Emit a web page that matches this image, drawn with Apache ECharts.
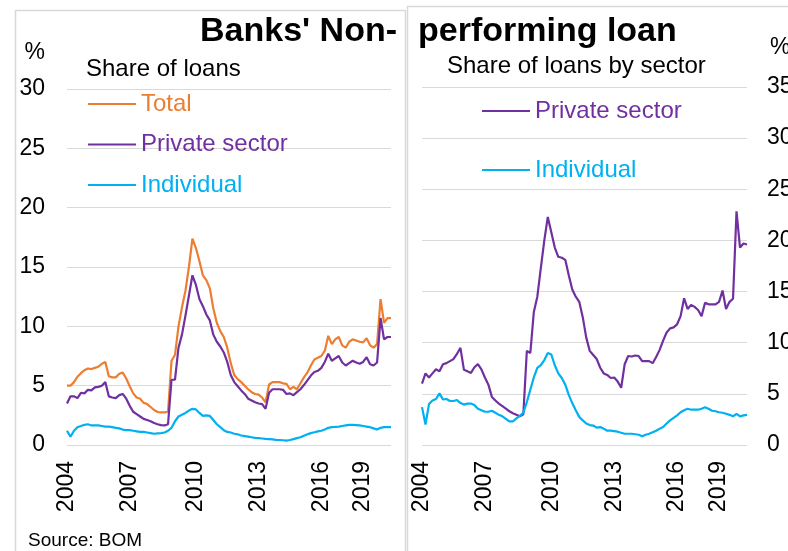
<!DOCTYPE html>
<html>
<head>
<meta charset="utf-8">
<script src="https://cdn.jsdelivr.net/npm/echarts@6/dist/echarts.min.js"></script>
<style>
html,body{margin:0;padding:0;background:#fff;}
#c{width:788px;height:551px;}
</style>
</head>
<body>
<div id="c"></div>
<script>
// Periods (roughly bi-monthly observations, 2004 - mid 2020)
const categories = Array.from({length: 94}, (_, i) => String(i));
const tickLabels = ['2004', '2007', '2010', '2013', '2016', '2019'];
const tickIndex = [0, 18, 37, 55, 73, 85];

// Left panel: share of loans (%)
const totalNPL = [5.0,5.0,5.3,5.75,6.05,6.3,6.45,6.4,6.5,6.6,6.85,7.0,5.8,5.7,5.7,6.0,6.1,5.6,4.95,4.35,
  4.0,3.9,3.55,3.45,3.2,2.95,2.78,2.75,2.75,2.8,7.1,7.6,10.0,11.6,13.0,15.0,17.4,16.6,15.5,14.3,
  13.9,13.2,11.5,10.3,9.6,9.1,8.2,6.9,5.9,5.55,5.3,5.0,4.7,4.45,4.3,4.25,4.0,3.6,5.1,5.3,
  5.3,5.3,5.2,5.15,4.7,4.9,4.7,5.2,5.7,6.1,6.7,7.2,7.35,7.5,7.95,9.2,8.5,8.9,9.1,8.4,
  8.2,8.7,8.9,8.8,8.7,8.65,9.0,8.4,8.2,8.5,12.3,10.3,10.7,10.7];
const privateNPL = [3.5,4.1,4.1,3.95,4.4,4.35,4.65,4.6,4.85,4.9,5.0,5.3,4.1,4.0,3.95,4.2,4.3,3.9,3.3,2.8,
  2.6,2.4,2.2,2.1,2.0,1.85,1.75,1.68,1.65,1.75,5.5,5.5,8.2,9.3,10.9,12.6,14.3,13.5,12.3,11.7,
  11.0,10.5,9.3,8.7,8.3,7.8,7.0,5.9,5.3,4.95,4.6,4.3,3.9,3.75,3.6,3.5,3.45,3.05,4.4,4.7,
  4.7,4.7,4.65,4.3,4.35,4.2,4.45,4.7,5.05,5.45,5.85,6.15,6.25,6.5,7.0,7.7,7.1,7.3,7.5,6.95,
  6.7,6.9,7.1,6.95,6.85,7.0,7.4,6.8,6.7,6.95,10.7,8.9,9.1,9.1];
const individualNPL = [1.2,0.7,1.2,1.5,1.6,1.7,1.75,1.65,1.65,1.65,1.6,1.55,1.55,1.5,1.45,1.4,1.3,1.25,1.25,1.2,
  1.15,1.1,1.1,1.05,1.0,0.95,0.98,1.0,1.05,1.2,1.45,2.0,2.4,2.55,2.7,2.9,3.05,3.0,2.7,2.45,
  2.5,2.45,2.1,1.75,1.5,1.25,1.1,1.05,0.95,0.9,0.8,0.75,0.7,0.65,0.6,0.58,0.55,0.52,0.5,0.47,
  0.43,0.42,0.4,0.37,0.42,0.5,0.58,0.65,0.78,0.9,1.0,1.07,1.15,1.2,1.3,1.45,1.5,1.52,1.55,1.6,
  1.65,1.7,1.7,1.68,1.65,1.6,1.55,1.5,1.4,1.3,1.45,1.5,1.5,1.5];

// Right panel: share of loans by sector (%)
const privateSector = [6.0,7.0,6.6,7.0,7.4,7.2,7.9,8.0,8.2,8.4,8.9,9.5,7.35,7.2,7.05,7.6,7.9,7.4,6.6,5.9,
  4.7,4.35,4.05,3.8,3.55,3.3,3.1,2.95,2.8,3.0,9.2,9.0,13.0,14.5,17.3,20.0,22.3,20.8,19.3,18.4,
  18.3,18.1,16.6,15.2,14.5,14.0,12.5,10.5,9.2,8.8,8.4,7.55,7.0,6.85,6.55,6.6,6.2,5.6,7.9,8.7,
  8.65,8.75,8.7,8.2,8.2,8.2,8.0,8.6,9.3,10.2,11.0,11.4,11.5,11.8,12.6,14.35,13.3,13.7,13.5,13.2,
  12.6,13.9,13.75,13.75,13.75,14.0,15.1,13.3,14.0,14.3,22.85,19.3,19.7,19.6];
const individualSector = [3.7,2.0,4.0,4.35,4.5,5.05,4.45,4.5,4.3,4.3,4.4,4.1,3.95,4.05,4.05,3.9,3.55,3.4,3.25,3.25,
  3.35,3.15,2.95,2.8,2.55,2.3,2.3,2.6,2.85,3.15,4.2,5.4,6.6,7.55,7.8,8.3,9.0,8.85,7.8,7.0,
  6.55,5.9,4.9,4.1,3.4,2.75,2.4,2.1,1.95,1.9,1.7,1.75,1.6,1.4,1.4,1.35,1.3,1.2,1.1,1.1,
  1.1,1.05,1.0,0.85,1.0,1.1,1.25,1.4,1.6,1.75,2.1,2.4,2.65,2.9,3.2,3.4,3.55,3.45,3.45,3.45,
  3.55,3.7,3.55,3.35,3.3,3.2,3.15,3.05,2.95,2.8,3.05,2.8,2.9,2.95];

const FONT = 'Liberation Sans, Arial, sans-serif';
const C_TOTAL = '#ED7D31', C_PRIV = '#7030A0', C_IND = '#00B0F0';
const GRIDC = '#D9D9D9';

function xAxisFor(gi) {
  return {
    type: 'category', gridIndex: gi, data: categories, boundaryGap: false,
    axisLine: {show: false}, axisTick: {show: false}, splitLine: {show: false},
    axisLabel: {
      rotate: 90, margin: 16, fontSize: 23, color: '#000', fontFamily: FONT,
      interval: (idx) => tickIndex.indexOf(idx) >= 0,
      formatter: (v, idx) => { const k = tickIndex.indexOf(Number(v)); return k >= 0 ? tickLabels[k] : ''; }
    }
  };
}
function lineSeries(name, data, color, gi) {
  return {
    name, type: 'line', data, xAxisIndex: gi, yAxisIndex: gi, symbol: 'none',
    lineStyle: {color, width: 2.2}, itemStyle: {color}, animation: false
  };
}

const chart = echarts.init(document.getElementById('c'), null, {renderer: 'canvas'});
chart.setOption({
  animation: false,
  backgroundColor: '#fff',
  graphic: [
    {type: 'rect', shape: {x: 15.5, y: 10.5, width: 390, height: 600}, style: {fill: 'none', stroke: GRIDC, lineWidth: 1.5}, z: -1},
    {type: 'rect', shape: {x: 407.5, y: 6.5, width: 420, height: 600}, style: {fill: 'none', stroke: GRIDC, lineWidth: 1.5}, z: -1}
  ],
  title: [
    {text: "Banks' Non-", right: 391, top: 15, padding: 0, textStyle: {fontSize: 34, fontWeight: 'bold', color: '#000', fontFamily: FONT}},
    {text: 'performing loan', left: 418, top: 15, padding: 0, textStyle: {fontSize: 34, fontWeight: 'bold', color: '#000', fontFamily: FONT}},
    {text: 'Share of loans', left: 86, top: 57, padding: 0, textStyle: {fontSize: 24, fontWeight: 'normal', color: '#000', fontFamily: FONT}},
    {text: 'Share of loans by sector', left: 447, top: 54, padding: 0, textStyle: {fontSize: 24, fontWeight: 'normal', color: '#000', fontFamily: FONT}},
    {text: 'Source: BOM', left: 28, top: 531, padding: 0, textStyle: {fontSize: 19, fontWeight: 'normal', color: '#000', fontFamily: FONT}}
  ],
  legend: [
    {orient: 'vertical', left: 88, top: 92, padding: 0, icon: 'rect', itemWidth: 48, itemHeight: 2.2, itemGap: 16.5,
     textStyle: {fontSize: 24, fontFamily: FONT, lineHeight: 24},
     data: [{name: 'Total', textStyle: {color: C_TOTAL}}, {name: 'Private sector', textStyle: {color: C_PRIV}}, {name: 'Individual', textStyle: {color: C_IND}}],
     selectedMode: false},
    {orient: 'vertical', left: 482, top: 99, padding: 0, icon: 'rect', itemWidth: 48, itemHeight: 2.2, itemGap: 35,
     textStyle: {fontSize: 24, fontFamily: FONT, lineHeight: 24},
     data: [{name: 'Private sector', textStyle: {color: C_PRIV}}, {name: 'Individual', textStyle: {color: C_IND}}],
     selectedMode: false}
  ],
  grid: [
    {left: 67, top: 89, width: 324, height: 356, containLabel: false, outerBoundsMode: 'none'},
    {left: 422, top: 87, width: 325, height: 358, containLabel: false, outerBoundsMode: 'none'}
  ],
  xAxis: [xAxisFor(0), xAxisFor(1)],
  yAxis: [
    {type: 'value', gridIndex: 0, min: 0, max: 30, interval: 5, position: 'left',
     name: '%', nameLocation: 'end', nameGap: 36,
     nameTextStyle: {fontSize: 23, color: '#000', fontFamily: FONT, align: 'right', verticalAlign: 'middle', padding: [0, 22, 0, 0]},
     axisLine: {show: false}, axisTick: {show: false},
     axisLabel: {fontSize: 23, color: '#000', fontFamily: FONT, margin: 22},
     splitLine: {lineStyle: {color: GRIDC, width: 1.2}}},
    {type: 'value', gridIndex: 1, min: 0, max: 35, interval: 5, position: 'right',
     name: '%', nameLocation: 'end', nameGap: 39,
     nameTextStyle: {fontSize: 23, color: '#000', fontFamily: FONT, align: 'left', verticalAlign: 'middle', padding: [0, 0, 0, 23]},
     axisLine: {show: false}, axisTick: {show: false},
     axisLabel: {fontSize: 23, color: '#000', fontFamily: FONT, margin: 20},
     splitLine: {lineStyle: {color: GRIDC, width: 1.2}}}
  ],
  series: [
    lineSeries('Total', totalNPL, C_TOTAL, 0),
    lineSeries('Private sector', privateNPL, C_PRIV, 0),
    lineSeries('Individual', individualNPL, C_IND, 0),
    lineSeries('Private sector', privateSector, C_PRIV, 1),
    lineSeries('Individual', individualSector, C_IND, 1)
  ]
});
</script>
</body>
</html>
